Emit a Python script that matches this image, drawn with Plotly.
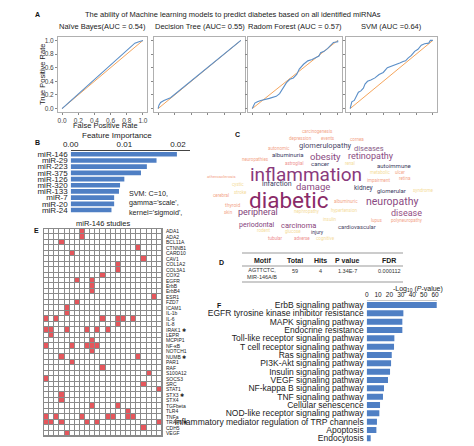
import plotly.graph_objects as go

W, H = 474, 446
def px(x): return x / W
def py(y): return 1 - y / H

# ---------------- data ----------------
roc_titles = ["Naïve Bayes(AUC = 0.54)", "Decision Tree (AUC= 0.55)",
              "Radom Forest (AUC = 0.57)", "SVM (AUC =0.64)"]
nb_fpr = [0, 0.90, 0.95, 1.0]
nb_tpr = [0, 0.96, 0.98, 1.0]
dt_fpr = [0, 0.01, 0.03, 0.07, 0.15, 1.0]
dt_tpr = [0, 0.05, 0.09, 0.12, 0.16, 1.0]
rf_fpr = [0, 0.01, 0.03, 0.06, 0.10, 0.20, 0.28, 0.32, 0.36, 0.40, 0.44, 0.48, 0.52, 0.55,
          0.60, 0.65, 0.70, 0.74, 0.78, 0.80, 0.84, 0.88, 0.92, 0.95, 1.0, 1.0]
rf_tpr = [0, 0.03, 0.08, 0.10, 0.12, 0.15, 0.18, 0.22, 0.30, 0.38, 0.43, 0.45, 0.50, 0.58,
          0.65, 0.70, 0.72, 0.75, 0.77, 0.82, 0.84, 0.88, 0.93, 0.97, 0.98, 1.0]
svm_fpr = [0, 0.01, 0.02, 0.05, 0.08, 0.10, 0.13, 0.16, 0.18, 0.21, 0.25, 0.30, 0.35, 0.40,
           0.45, 0.50, 0.60, 0.64, 0.67, 0.70, 0.74, 0.78, 0.82, 0.86, 0.90, 0.95, 0.97, 1.0]
svm_tpr = [0, 0.06, 0.10, 0.12, 0.18, 0.24, 0.26, 0.30, 0.36, 0.40, 0.42, 0.45, 0.50, 0.53,
           0.60, 0.62, 0.67, 0.69, 0.70, 0.74, 0.78, 0.84, 0.87, 0.93, 0.95, 0.96, 1.0, 1.0]
roc_ticks = [0.0, 0.2, 0.4, 0.6, 0.8, 1.0]

fi_labels = ["miR-146", "miR-29", "miR-223", "miR-375", "miR-126", "miR-320",
             "miR-133", "miR-7", "miR-20", "miR-24"]
fi_values = [0.0198, 0.0160, 0.0142, 0.0131, 0.0100, 0.0092, 0.0090, 0.0081, 0.0081, 0.0076]

cloud_words = ["inflammation", "diabetic", "obesity", "retinopathy", "glomerulopathy", "diseases",
               "albuminuria", "autonomic", "carcinogenesis", "depression", "events", "cornea",
               "neuropathies", "astroglial", "cancer", "renal", "autoimmune", "metabolic", "ulcer",
               "impairment", "retina", "infarction", "damage", "kidney", "glomerular", "syndrome",
               "neuropathy", "albuminuric", "peripheral", "nephropathy", "hypertension", "disease",
               "atherosclerosis", "cerebral", "thyroid", "skin", "cystic", "stroke",
               "periodontal", "carcinoma", "cardiovascular", "injury", "rodent", "glucose",
               "tubular", "adverse", "cognitive", "insulin", "lupus", "polyneuropathy"]

motif_header = ["Motif", "Total", "Hits", "P value", "FDR"]
motif_row = ["AGTTCTC,<br>MIR-146A/B", "59", "4", "1.34E-7", "0.000112"]

genes = ["ADA1", "ADA2", "BCL11A", "CTNNB1", "CARD10", "CAV1", "COL1A2", "COL3A1", "COX2",
         "EGFR", "ErbB", "ErbB4", "ESR1", "FZD7", "ICAM1", "IL-1b", "IL-6", "IL-8", "IRAK1 ✱",
         "LEPR", "MCPIP1", "NF-κB", "NOTCH1", "NUMB ✱", "PAR1", "RAF", "S100A12", "SOCS3",
         "SRC", "STAT1", "STX3 ✱", "STX4", "TGFbeta", "TLR4", "TNFa", "TRAF6 ✱", "CDH5", "VEGF"]
gene_hits = [[7], [7], [3], [18], [5], [19], [14], [14], [11],
             [6, 9], [9], [9], [21], [6], [4], [4], [0, 2, 11, 14, 15, 17], [14],
             [0, 1, 4, 8, 10, 12], [1], [9], [0, 5, 8, 9, 10], [9], [3, 18], [5], [11], [20], [0],
             [19], [22], [3], [3], [9, 14], [16], [0, 2, 7, 12, 13, 16, 17], [0, 1, 3, 8, 10, 22],
             [19], [4]]
n_studies = 23

pathways = ["ErbB signaling pathway", "EGFR tyrosine kinase inhibitor resistance",
            "MAPK signaling pathway", "Endocrine resistance", "Toll-like receptor signaling pathway",
            "T cell receptor signaling pathway", "Ras signaling pathway", "PI3K-Akt signaling pathway",
            "Insulin signaling pathway", "VEGF signaling pathway", "NF-kappa B signaling pathway",
            "TNF signaling pathway", "Cellular senescence", "NOD-like receptor signaling pathway",
            "Inflammatory mediator regulation of TRP channels", "Apoptosis", "Endocytosis"]
neg_log_p = [61.5, 32.2, 31.3, 31.3, 24.3, 24.0, 22.0, 21.4, 20.5, 18.7, 15.2, 14.3, 11.7, 11.1,
             9.0, 8.5, 3.5]

# ---------------- figure ----------------
FONT = "Liberation Sans"
BLUE_ROC = "#5b8fc8"
ORANGE = "#f5a55c"
BAR = "#4f7fc4"

fig = go.Figure()
layout = dict(width=W, height=H, margin=dict(l=0, r=0, t=0, b=0, pad=0), autosize=False,
              paper_bgcolor="white", plot_bgcolor="white", showlegend=False,
              font=dict(family=FONT, size=7, color="#222"))
annotations = []
shapes = []

roc_x = [(58, 147), (154, 245), (248, 342), (346, 437)]
roc_data = [(nb_fpr, nb_tpr), (dt_fpr, dt_tpr), (rf_fpr, rf_tpr), (svm_fpr, svm_tpr)]
for i in range(4):
    n = i + 1
    xa = "x" if n == 1 else f"x{n}"
    ya = "y" if n == 1 else f"y{n}"
    fig.add_trace(go.Scatter(x=[0, 1], y=[0, 1], mode="lines", xaxis=xa, yaxis=ya,
                             line=dict(color=ORANGE, width=1)))
    fx, fy = roc_data[i]
    fig.add_trace(go.Scatter(x=fx, y=fy, mode="lines", xaxis=xa, yaxis=ya,
                             line=dict(color=BLUE_ROC, width=1.1)))
    common = dict(range=[-0.05, 1.05], showgrid=False, zeroline=False, showline=True, mirror=True,
                  linecolor="#b0b0b0", linewidth=1, ticks="outside", ticklen=2, tickcolor="#888",
                  tickmode="array", tickvals=roc_ticks, ticktext=[f"{v:.1f}" for v in roc_ticks],
                  tickfont=dict(size=6.5, color="#444"), automargin=False)
    layout["xaxis" if n == 1 else f"xaxis{n}"] = dict(
        common, domain=[px(roc_x[i][0]), px(roc_x[i][1])], anchor=ya, showticklabels=(n == 1))
    layout["yaxis" if n == 1 else f"yaxis{n}"] = dict(
        common, domain=[py(112), py(37)], anchor=xa, showticklabels=(n == 1))
    annotations.append(dict(text=roc_titles[i], x=px((roc_x[i][0] + roc_x[i][1]) / 2), y=py(27),
                            font=dict(size=7.5, color="#222")))

annotations += [
    dict(text="The ability of Machine learning models to predict diabetes based on all identified miRNAs",
         x=px(233), y=py(15), font=dict(size=7.5)),
    dict(text="True Positive Rate", x=px(42), y=py(75), textangle=-90, font=dict(size=7.5)),
    dict(text="False Positive Rate", x=px(105), y=py(125), font=dict(size=7.5)),
]

# ---- B: feature importance ----
fi_pos = list(range(len(fi_labels)))
fig.add_trace(go.Bar(x=fi_values, y=fi_pos, orientation="h", xaxis="x5", yaxis="y5",
                     marker=dict(color=BAR, line=dict(width=0)), width=0.75))
layout["xaxis5"] = dict(domain=[px(70.7), px(190)], range=[0, 0.02224], anchor="y5", side="top",
                        tickmode="array", tickvals=[0, 0.01, 0.02], ticktext=["0.00", "0.01", "0.02"],
                        showgrid=False, zeroline=False, showline=True, linecolor="#444",
                        ticks="", tickfont=dict(size=8), automargin=False)
layout["yaxis5"] = dict(domain=[py(213.1), py(151.2)], anchor="x5",
                        range=[len(fi_labels) - 0.5, -0.5], tickmode="array",
                        tickvals=fi_pos, ticktext=fi_labels,
                        showgrid=False, zeroline=False, showline=False, ticks="",
                        tickfont=dict(size=8), ticklabelstandoff=2, automargin=False)
annotations += [
    dict(text="Feature Importance", x=px(117), y=py(135), font=dict(size=8)),
    dict(text="SVM: C=10,<br>gamma='scale',<br>kernel='sigmoid',", x=px(127), y=py(203),
         xanchor="left", align="left", font=dict(size=7.2)),
]

# ---- C: word cloud ----
SAL = "#f3a58a"; YEL = "#f5dc9c"; NAV = "#3a3a62"; PUR = "#8a4a82"; PNK = "#ee8f8f"
cloud_pos = {
    "inflammation": (306, 174, 19, "#8a3a7c"), "diabetic": (289, 200, 22.5, "#8a2a68"),
    "obesity": (325, 156, 9.5, PUR), "retinopathy": (371, 156, 9, PUR),
    "glomerulopathy": (325, 145.5, 7.5, "#4a4868"), "diseases": (369, 148, 7.5, "#8a5c88"),
    "albuminuria": (288, 154.5, 6, NAV), "autonomic": (279, 148, 4.5, SAL),
    "carcinogenesis": (317, 132, 4.5, SAL), "depression": (300, 138.5, 4.5, SAL),
    "events": (328, 138.5, 4.5, SAL), "cornea": (357, 139.5, 4.5, SAL),
    "neuropathies": (256, 160, 4.5, SAL), "astroglial": (294, 163.5, 4.5, PNK),
    "cancer": (320, 163, 6, NAV), "renal": (350, 163.5, 4.5, YEL),
    "autoimmune": (394, 166, 6, NAV), "metabolic": (380, 172.5, 4.5, YEL),
    "ulcer": (400, 172, 4.5, SAL), "impairment": (378, 180, 4.5, SAL),
    "retina": (405, 178.5, 4.5, SAL), "infarction": (277, 184.5, 7, NAV),
    "damage": (313, 186.5, 9.5, PUR), "kidney": (363, 187.5, 6.5, NAV),
    "glomerular": (391, 190, 6, NAV), "syndrome": (423, 190, 4.5, YEL),
    "neuropathy": (392, 201, 10.5, PUR), "albuminuric": (346, 201, 4.5, SAL),
    "peripheral": (258, 212, 9, "#7f4278"), "nephropathy": (307, 211.5, 4.5, YEL),
    "hypertension": (344, 211, 4.5, YEL), "disease": (406, 212.5, 9, "#924c82"),
    "atherosclerosis": (221, 177, 4.2, SAL), "cerebral": (221, 196, 4.5, SAL),
    "thyroid": (232, 204.5, 5, SAL), "skin": (228, 212.5, 4.5, SAL),
    "cystic": (238, 184, 4.5, YEL), "stroke": (240, 192.5, 4.5, YEL),
    "periodontal": (257, 225, 7, "#84447d"), "carcinoma": (298, 225, 7.5, "#8a3f7a"),
    "cardiovascular": (357, 227, 5.8, "#4a4766"), "injury": (317, 232, 5, NAV),
    "rodent": (263, 230.5, 4.5, YEL), "glucose": (293, 232, 4.5, YEL),
    "tubular": (275, 238, 4.5, PNK), "adverse": (302, 238, 4.5, PNK),
    "cognitive": (325, 238, 4.5, YEL), "insulin": (330, 219, 4.5, YEL),
    "lupus": (377, 220, 4.5, SAL), "polyneuropathy": (407, 220, 4.5, SAL),
}
for w in cloud_words:
    cx, cy, s, c = cloud_pos[w]
    annotations.append(dict(text=w, x=px(cx), y=py(cy), borderpad=0,
                            font=dict(family="Roboto", size=s, color=c)))

# ---- D: table ----
col_x = [262, 295, 320, 347, 389]
for i in range(5):
    annotations.append(dict(text=f"<b>{motif_header[i]}</b>", x=px(col_x[i]), y=py(260),
                            font=dict(size=7)))
    annotations.append(dict(text=motif_row[i], x=px(col_x[i]),
                            y=py(273.5) if i == 0 else py(270.5),
                            font=dict(size=5.5, color="#333")))
for yy in [253, 266, 282]:
    shapes.append(dict(type="line", xref="paper", yref="paper", x0=px(242), x1=px(403),
                       y0=py(yy), y1=py(yy), line=dict(color="#999", width=1)))

# ---- E: heatmap ----
z = []
for hits in gene_hits:
    row = [0] * n_studies
    for c in hits:
        row[c] = 1
    z.append(row)
fig.add_trace(go.Heatmap(z=z, x=list(range(n_studies)), y=list(range(len(genes))),
                         xaxis="x6", yaxis="y6", colorscale=[[0, "white"], [1, "#e5565c"]],
                         showscale=False, xgap=1, ygap=1, hoverinfo="skip"))
layout["xaxis6"] = dict(domain=[px(44), px(162)], range=[-0.5, n_studies - 0.5], anchor="y6",
                        showgrid=False, zeroline=False, showticklabels=False, ticks="",
                        showline=True, mirror=True, linecolor="#8a8a8a", linewidth=1,
                        automargin=False)
layout["yaxis6"] = dict(domain=[py(436), py(229)], range=[len(genes) - 0.5, -0.5], anchor="x6",
                        side="right", tickmode="array", tickvals=list(range(len(genes))),
                        ticktext=genes, tickfont=dict(size=5, color="#222"), showgrid=False,
                        zeroline=False, ticks="", showline=True, mirror=True, linecolor="#8a8a8a",
                        linewidth=1, ticklabelstandoff=2, automargin=False)
shapes.append(dict(type="rect", xref="x6 domain", yref="y6 domain", x0=0, x1=1, y0=0, y1=1,
                   fillcolor="#8a8a8a", line=dict(width=0), layer="below"))
annotations.append(dict(text="miR-146 studies", x=px(103), y=py(223.5), font=dict(size=7.5)))

# ---- F: pathway bars ----
pw_pos = list(range(len(pathways)))
fig.add_trace(go.Bar(x=neg_log_p, y=pw_pos, orientation="h", xaxis="x7", yaxis="y7",
                     marker=dict(color=BAR, line=dict(width=0)), width=0.72))
layout["xaxis7"] = dict(domain=[px(366.7), px(437.3)], range=[0, 62], anchor="y7", side="top",
                        tickmode="array", tickvals=[0, 10, 20, 30, 40, 50, 60],
                        ticktext=["0", "10", "20", "30", "40", "50", "60"],
                        showgrid=False, zeroline=False,
                        showline=True, linecolor="#c8c8c8", ticks="", tickfont=dict(size=6.5),
                        automargin=False)
layout["yaxis7"] = dict(domain=[py(442.5), py(300.8)], anchor="x7",
                        range=[len(pathways) - 0.5, -0.5], tickmode="array",
                        tickvals=pw_pos, ticktext=pathways,
                        showgrid=False, zeroline=False, showline=False, ticks="",
                        tickfont=dict(size=8.5, color="#222"), ticklabelstandoff=2,
                        automargin=False)
annotations.append(dict(text="-Log<sub>10</sub> (<i>P</i>-value)", x=px(418), y=py(289),
                        font=dict(size=7)))

# panel letters
for lab, xx, yy in [("A", 37, 15), ("B", 37, 142), ("C", 237, 134), ("D", 221, 262),
                    ("E", 36, 230), ("F", 219, 305)]:
    annotations.append(dict(text=f"<b>{lab}</b>", x=px(xx), y=py(yy), font=dict(size=7, color="#111")))

for a in annotations:
    a.setdefault("xref", "paper")
    a.setdefault("yref", "paper")
    a.setdefault("showarrow", False)
    a.setdefault("xanchor", "center")
    a.setdefault("yanchor", "middle")
layout["annotations"] = annotations
layout["shapes"] = shapes
fig.update_layout(**layout)
fig.write_html("out.html", config={"displayModeBar": False},
               post_script="document.body.style.margin='0px';")
